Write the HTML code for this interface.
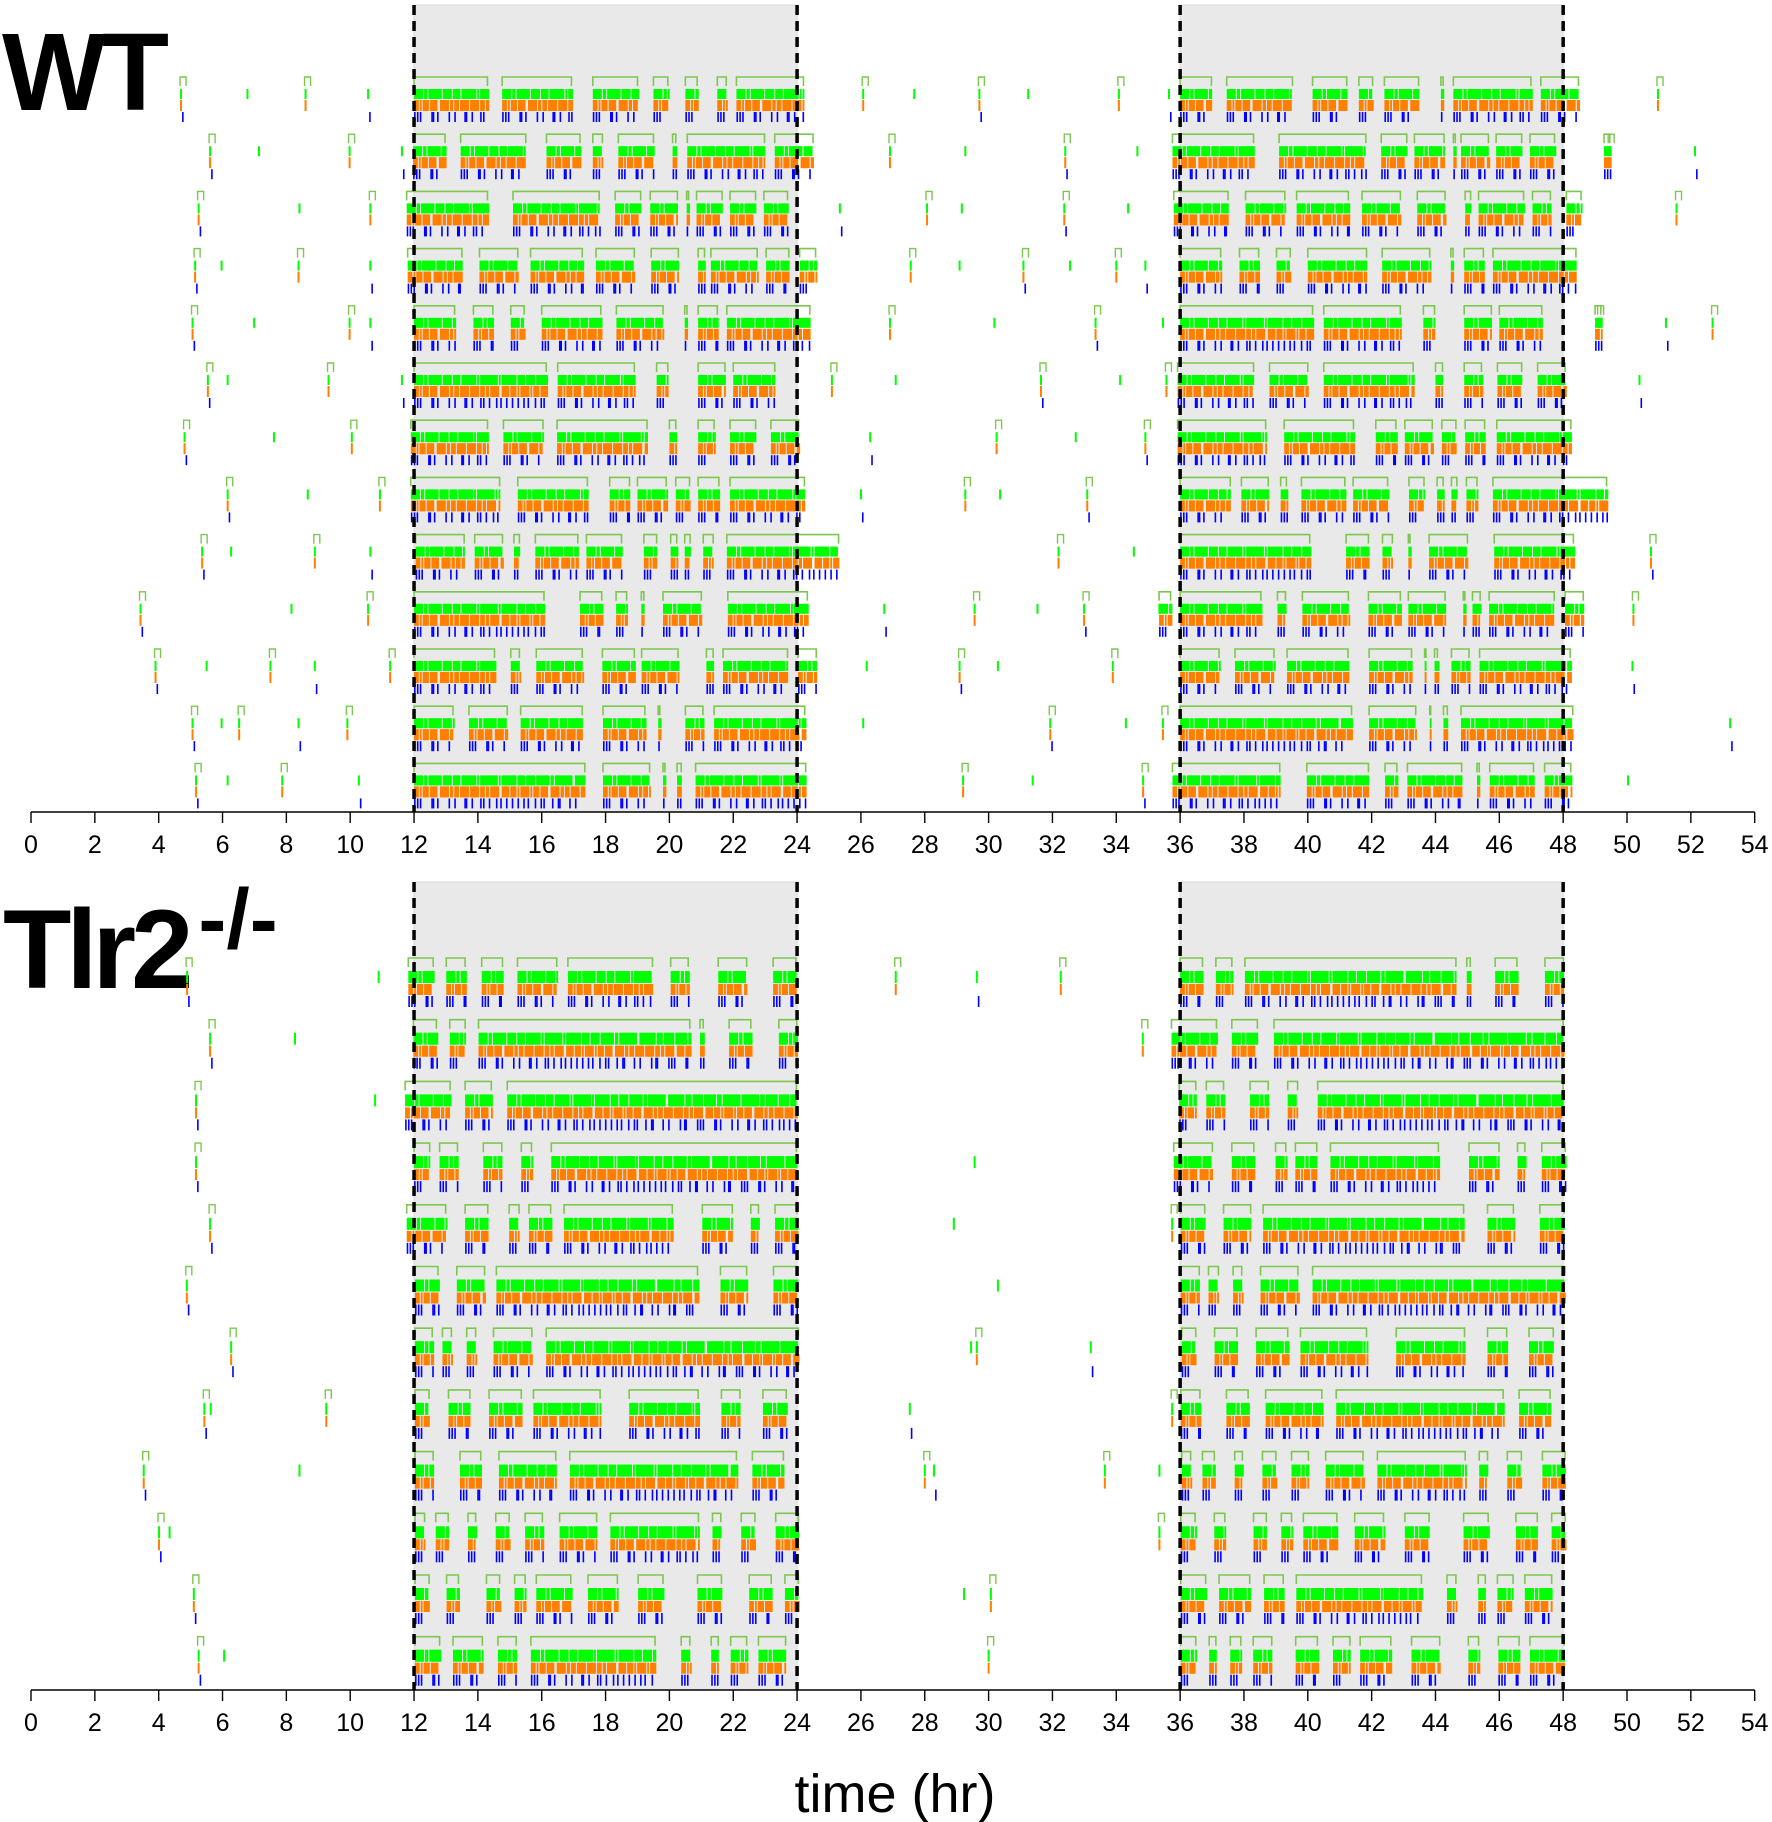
<!DOCTYPE html>
<html><head><meta charset="utf-8"><style>
html,body{margin:0;padding:0;background:#fff;}
svg{display:block;font-family:"Liberation Sans",Arial,sans-serif;}
</style></head><body>
<svg id="chart" width="1772" height="1822" viewBox="0 0 1772 1822" xmlns="http://www.w3.org/2000/svg">
<text x="2" y="110" font-size="110" font-weight="bold" letter-spacing="-4">WT</text>
<text x="3" y="988" font-size="112" font-weight="bold" letter-spacing="-5">Tlr2<tspan font-size="84" dx="10" dy="-40" letter-spacing="0">-/-</tspan></text>
<text x="895" y="1812" font-size="54" text-anchor="middle">time (hr)</text>
</svg>
<script>
const ticksHr = [0,2,4,6,8,10,12,14,16,18,20,22,24,26,28,30,32,34,36,38,40,42,44,46,48,50,52,54];
const darkPeriods = [[12,24],[36,48]];
const wtBouts = [
[[12,14.3],[14.76,16.93],[17.6,19.0],[19.5,19.95],[20.5,20.87],[21.5,21.78],[22.1,24.2],[36,36.98],[37.46,39.52],[40.15,41.22],[41.6,42.03],[42.4,43.47],[44.17,44.24],[44.56,46.99],[47.3,48.48]],
[[11.97,12.97],[13.46,15.5],[16.15,17.2],[17.6,17.9],[18.4,19.5],[20.1,20.2],[20.56,22.98],[23.3,24.5],[35.76,38.3],[39.1,41.82],[42.3,43.1],[43.34,44.27],[44.56,44.62],[44.8,45.66],[45.9,46.7],[46.96,47.73],[49.28,49.46]],
[[11.77,14.3],[15.1,17.8],[18.3,19.1],[19.4,20.25],[20.54,20.6],[20.85,21.65],[21.9,22.7],[22.96,23.7],[35.8,37.5],[38.05,39.28],[39.65,41.27],[41.7,42.9],[43.43,44.3],[44.93,45.1],[45.35,46.76],[47.04,47.6],[48.1,48.56]],
[[11.8,13.5],[14.05,15.25],[15.65,17.27],[17.7,18.9],[19.43,20.28],[20.9,21.1],[21.3,22.75],[23.03,23.74],[24.08,24.58],[36,37.27],[37.86,38.46],[39.02,39.45],[40.0,41.84],[42.33,43.82],[44.48,44.55],[44.9,45.5],[45.8,48.4]],
[[12,13.27],[13.86,14.47],[15.03,15.45],[16,17.85],[18.34,19.8],[20.48,20.55],[20.9,21.5],[21.8,24.4],[36,40.15],[40.5,42.9],[43.62,43.97],[44.9,45.75],[46.0,47.33],[49.0,49.18]],
[[12,16.14],[16.5,18.9],[19.6,19.95],[20.9,21.74],[22.0,23.3],[35.92,38.3],[38.8,40.0],[40.5,43.3],[44.0,44.22],[44.9,45.44],[45.94,46.7],[47.2,48.06]],
[[11.9,14.3],[14.8,16.04],[16.48,19.3],[20.0,20.2],[20.9,21.4],[21.9,22.7],[23.18,24.05],[35.92,38.68],[39.26,41.43],[42.13,42.76],[43.04,43.9],[44.2,44.64],[44.93,45.54],[45.92,48.24]],
[[11.9,14.68],[15.25,17.43],[18.13,18.75],[19.0,19.9],[20.2,20.63],[20.9,21.55],[21.9,24.23],[36,37.57],[37.92,38.76],[39.15,39.33],[39.8,41.16],[41.42,42.5],[43.17,43.64],[44.05,44.24],[44.5,44.67],[44.97,45.3],[45.8,49.36]],
[[12.05,13.57],[13.9,14.77],[15.13,15.3],[15.8,17.13],[17.4,18.5],[19.2,19.6],[20.04,20.23],[20.48,20.65],[21.06,21.37],[21.8,25.3],[36,40.06],[41.2,41.9],[42.34,42.65],[43.15,43.2],[43.8,45.0],[45.84,48.32]],
[[12,16.07],[17.2,17.88],[18.33,18.66],[19.12,19.2],[19.8,21.0],[21.83,24.32],[35.34,35.7],[36,38.53],[39.05,39.3],[39.83,41.27],[41.9,42.9],[43.15,44.3],[44.87,44.92],[45.16,45.4],[45.68,47.72],[48.06,48.63]],
[[12,14.52],[15.03,15.3],[15.83,17.27],[17.9,18.9],[19.13,20.27],[21.16,21.37],[21.68,23.7],[24.03,24.6],[36,37.22],[37.72,38.94],[39.35,41.26],[41.92,43.25],[43.66,43.7],[43.97,44.06],[44.5,45.05],[45.38,48.22]],
[[12,13.22],[13.72,14.92],[15.34,17.27],[17.92,19.23],[19.65,19.7],[20.5,21.05],[21.4,24.24],[36,41.37],[41.92,43.38],[43.82,43.85],[44.25,44.37],[44.8,48.3]],
[[12,17.35],[17.92,19.38],[19.8,19.86],[20.24,20.37],[20.82,24.27],[35.76,39.12],[39.97,41.9],[42.42,42.79],[43.12,44.82],[45.3,45.37],[45.7,47.07],[47.42,48.24]]
];
const wtSingles = [
[4.67,6.75,8.57,10.53,26.04,27.64,29.68,31.21,34.05,35.62,50.94],
[5.58,7.11,9.95,11.59,26.88,29.24,32.37,34.63,49.41,52.1],
[5.22,8.38,10.6,25.31,28.04,29.13,32.34,34.34,51.52],
[5.11,5.94,8.35,10.6,27.53,29.06,31.06,32.52,33.97,34.88],
[5.03,6.96,9.95,10.6,26.88,30.15,33.32,35.43,49.08,51.19,52.65],
[5.51,6.13,9.29,11.59,25.06,27.06,31.61,34.09,35.54,50.36],
[4.78,7.58,10.02,26.26,30.22,32.7,34.88],
[6.13,8.64,10.9,25.97,29.24,30.33,33.06],
[5.33,6.24,8.86,10.6,32.16,34.52,50.72],
[3.4,8.13,10.53,26.7,29.53,31.5,32.96,35.32,50.17],
[3.87,5.47,7.47,8.86,11.22,26.15,29.06,30.26,33.86,50.14],
[5.03,5.94,6.49,8.35,9.88,26.04,31.9,34.27,35.43,53.2],
[5.14,6.13,7.84,10.24,29.17,31.35,34.81,50.0]
];
const tlBouts = [
[[11.82,12.6],[13.01,13.6],[14.12,14.77],[15.24,16.47],[16.82,19.47],[20.04,20.59],[21.53,22.42],[23.25,23.96],[36,36.7],[37.12,37.62],[38.03,44.64],[44.98,45.09],[45.87,46.55],[47.43,48.01]],
[[11.98,12.7],[13.12,13.6],[14.02,20.64],[20.96,21.06],[21.87,22.55],[23.43,23.99],[35.73,37.14],[37.62,38.42],[38.94,48.0]],
[[11.72,13.13],[13.6,14.42],[14.92,23.98],[35.97,36.49],[36.82,37.36],[38.19,38.76],[39.37,39.68],[40.31,48.0]],
[[12,12.49],[12.8,13.36],[14.17,14.75],[15.36,15.68],[16.3,23.98],[35.8,37.01],[37.62,38.31],[38.99,39.31],[39.61,40.28],[40.71,44.09],[45.05,45.99],[46.57,46.8],[47.33,48.06]],
[[11.77,12.99],[13.6,14.31],[14.98,15.29],[15.6,16.28],[16.7,20.09],[21.03,21.97],[22.55,22.79],[23.31,24.0],[36.02,36.77],[37.36,38.21],[38.6,44.88],[45.63,46.44],[47.27,48.03]],
[[12.03,12.75],[13.34,14.21],[14.58,20.88],[21.6,22.42],[23.26,24.0],[36.02,36.6],[36.89,37.2],[37.66,37.93],[38.52,39.69],[40.15,48.06]],
[[12.03,12.57],[12.89,13.17],[13.65,13.93],[14.49,15.69],[16.14,24.04],[36.05,36.49],[37.08,37.78],[38.38,39.37],[39.77,41.84],[42.77,44.91],[45.63,46.23],[46.93,47.69]],
[[12.03,12.47],[13.08,13.75],[14.35,15.36],[15.74,17.83],[18.74,20.9],[21.63,22.21],[22.93,23.66],[36.02,36.62],[37.45,38.13],[38.68,40.44],[40.89,46.12],[46.62,47.59]],
[[12.03,12.6],[13.44,14.09],[14.66,16.44],[16.88,22.1],[22.6,23.57],[36.05,36.33],[36.7,37.07],[37.71,37.95],[38.58,39.0],[39.49,40.02],[40.56,41.73],[42.18,44.93],[45.37,45.63],[46.25,46.69],[47.35,48.06]],
[[12.03,12.33],[12.68,13.07],[13.69,13.93],[14.56,14.98],[15.48,16.02],[16.56,17.72],[18.15,20.91],[21.35,21.61],[22.25,22.68],[23.33,24.04],[36.02,36.47],[37.07,37.4],[38.3,38.7],[39.17,39.49],[39.86,40.91],[41.47,42.37],[43.04,43.8],[44.88,45.65],[46.52,47.19],[47.64,48.06]],
[[12.03,12.47],[13.02,13.39],[14.27,14.68],[15.15,15.48],[15.83,16.91],[17.45,18.37],[19.02,19.8],[20.88,21.63],[22.5,23.19],[23.62,24.04],[36.02,36.8],[37.22,38.18],[38.63,39.23],[39.64,43.56],[44.36,44.64],[45.34,45.56],[45.94,46.43],[46.8,47.64]],
[[12.03,12.8],[13.22,14.14],[14.63,15.2],[15.66,19.55],[20.37,20.64],[21.31,21.53],[21.92,22.42],[22.79,23.64],[36.02,36.49],[36.91,37.12],[37.57,37.9],[38.29,38.87],[39.62,40.3],[40.79,41.32],[41.64,42.6],[43.25,44.13],[45.03,45.35],[45.97,46.62],[46.96,48.03]]
];
const tlSingles = [
[4.86,10.86,27.06,29.6,32.23],
[5.58,8.24,34.8],
[5.14,10.75],
[5.14,29.53],
[5.58,28.88,35.72],
[4.85,30.26],
[6.24,29.42,29.6,33.17],
[5.4,5.6,9.22,27.5,35.72],
[3.5,8.38,27.97,28.26,33.61,35.32],
[3.98,4.31,35.32],
[5.07,29.2,30.04],
[5.22,6.02,29.97]
];

const NS = "http://www.w3.org/2000/svg";
const svg = document.getElementById('chart');
const X0 = 31, PXH = 31.92;
function xScale(h){ return X0 + h * PXH; }
function mk(tag, attrs, parent){
  const e = document.createElementNS(NS, tag);
  for (const k in attrs) e.setAttribute(k, attrs[k]);
  (parent || svg).appendChild(e);
  return e;
}

const panels = [
  {name:'wt', bouts:wtBouts, singles:wtSingles, shadeTop:5, axisY:812, rowTop:77, pitch:57.2, g:[12,22], o:[23,34], b:[35,45]},
  {name:'tlr2', bouts:tlBouts, singles:tlSingles, shadeTop:882, axisY:1690, rowTop:958, pitch:61.7, g:[13,25], o:[26,37], b:[38,49]}
];

panels.forEach(function(P){
  const pg = mk('g', {});
  
  
  darkPeriods.forEach(function(d, i){
    const r = mk('rect', {x:xScale(d[0]), y:P.shadeTop, width:xScale(d[1])-xScale(d[0]), height:P.axisY-P.shadeTop, fill:'#e9e9e9', stroke:'#d8d8d8', 'stroke-width':1}, pg);
    
    
  });
  const rowsG = mk('g', {}, pg);
  
  
  function drawBout(y0, s, e){
    const x1 = xScale(s), x2 = xScale(e);
    mk('path', {d:'M'+x1+','+(y0+9)+'V'+y0+'H'+x2+'V'+(y0+9), fill:'none', stroke:'#7cc84f', 'stroke-width':1.6}, rowsG);
    let k = 0;
    for (let t = s; t <= e + 0.001; t += 0.045, k++){
      const x = xScale(t);
      if (k % 13 !== 6 && k % 17 !== 9) mk('rect', {x:x, y:y0+P.g[0], width:1.9, height:P.g[1]-P.g[0], fill:'#00ff00'}, rowsG);
      if (k % 7 !== 3 && k % 11 !== 5) mk('rect', {x:x, y:y0+P.o[0], width:1.9, height:P.o[1]-P.o[0], fill:'#ff7f00'}, rowsG);
      if ((k % 4 === 0 && k % 12 !== 8) || k % 11 === 2) mk('rect', {x:x, y:y0+P.b[0], width:1.6, height:P.b[1]-P.b[0], fill:'#0000ff'}, rowsG);
    }
  }
  P.bouts.forEach(function(row, i){
    const y0 = P.rowTop + i * P.pitch;
    row.forEach(function(b){ drawBout(y0, b[0], b[1]); });
  });
  P.singles.forEach(function(row, i){
    const y0 = P.rowTop + i * P.pitch;
    row.forEach(function(t, j){
      const x = xScale(t);
      if (j % 2 === 0) mk('path', {d:'M'+x+','+(y0+9)+'V'+y0+'H'+(x+6)+'V'+(y0+9), fill:'none', stroke:'#7cc84f', 'stroke-width':1.4}, rowsG);
      mk('rect', {x:x, y:y0+P.g[0], width:2, height:P.g[1]-P.g[0], fill:'#00ff00'}, rowsG);
      if (j % 2 === 0) mk('rect', {x:x, y:y0+P.o[0], width:2, height:P.o[1]-P.o[0], fill:'#ff7f00'}, rowsG);
      if (j % 3 === 0) mk('rect', {x:x+2, y:y0+P.b[0], width:1.6, height:P.b[1]-P.b[0], fill:'#0000ff'}, rowsG);
    });
  });
  darkPeriods.forEach(function(d){
    d.forEach(function(h){
      const l = mk('line', {x1:xScale(h), x2:xScale(h), y1:P.shadeTop, y2:P.axisY, stroke:'#000', 'stroke-width':3.5, 'stroke-dasharray':'10 6'}, pg);
      
      
    });
  });
  const ax = mk('g', {}, pg);
  
  
  mk('line', {x1:xScale(0), x2:xScale(54), y1:P.axisY, y2:P.axisY, stroke:'#000', 'stroke-width':1.6}, ax);
  ticksHr.forEach(function(h){
    mk('line', {x1:xScale(h), x2:xScale(h), y1:P.axisY, y2:P.axisY+11, stroke:'#000', 'stroke-width':1.4}, ax);
    const t = mk('text', {x:xScale(h), y:P.axisY+41, 'font-size':25, 'text-anchor':'middle'}, ax);
    
    
    t.textContent = h;
  });
});
</script>
</body></html>
